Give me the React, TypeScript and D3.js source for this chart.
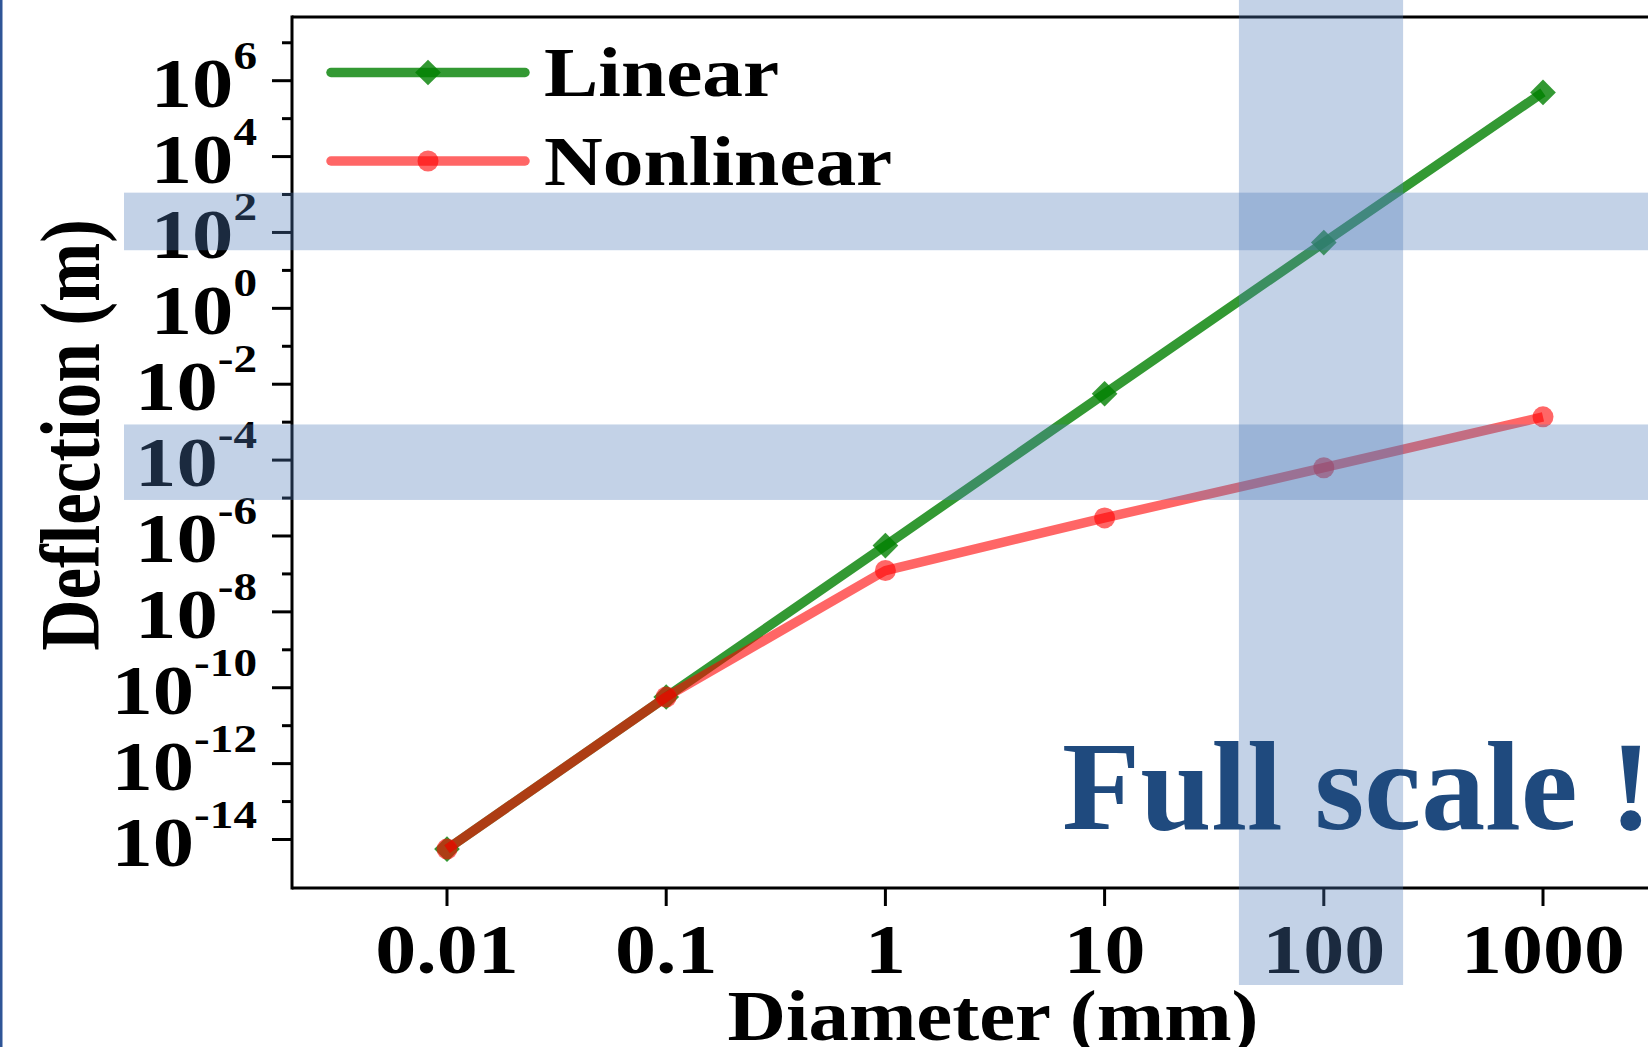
import * as d3 from "d3";

// values (diameter in mm, deflection in m)
const diameters = [0.01, 0.1, 1, 10, 100, 1000];
const linearDeflection = [5.6e-15, 5.7e-11, 5.6e-7, 5.6e-3, 54, 4.9e5];
const nonlinearDeflection = [5.6e-15, 5.7e-11, 1.23e-7, 3.0e-6, 6.3e-5, 1.38e-3];

const xTicks = [0.01, 0.1, 1, 10, 100, 1000];
const xTickLabels = ["0.01", "0.1", "1", "10", "100", "1000"];
const yMajorExp = [6, 4, 2, 0, -2, -4, -6, -8, -10, -12, -14];
const yMinorExp = [7, 5, 3, 1, -1, -3, -5, -7, -9, -11, -13];

// highlighted ranges
const yBands = [
  [34, 1120],
  [8.9e-6, 8.7e-4],
];
const xBand = [41, 230];

const W = 1648;
const H = 1047;
const FONT = "'Liberation Serif', 'Times New Roman', serif";
const frame = { left: 292, top: 17, bottom: 888, right: 1700 };

const GREEN = "rgb(0,128,0)";
const RED = "rgb(255,0,0)";
const BAND = "#4f7cb8";
const LW = 9.5;

export default function App() {
  const x = d3.scaleLog().domain([0.01, 1000]).range([447, 1543]);
  const y = d3.scaleLog().domain([1e-14, 1e6]).range([839.5, 80.7]);

  const line = d3
    .line<number>()
    .x((_, i) => x(diameters[i]))
    .y((d) => y(d));

  const diamond = d3.symbol(d3.symbolSquare, 330)()!;

  return (
    <svg
      width={W}
      height={H}
      style={{ position: "absolute", left: 0, top: 0, background: "#fff" }}
      fontFamily={FONT}
      fontWeight="bold"
    >
      <rect x={0} y={0} width={W} height={H} fill="#fff" />
      <rect x={0} y={0} width={2.5} height={H} fill="#2f5597" />

      {/* frame */}
      <g stroke="#000" strokeWidth={3} fill="none">
        <line x1={frame.left} x2={frame.left} y1={frame.top - 1.5} y2={frame.bottom + 1.5} />
        <line x1={frame.left} x2={frame.right} y1={frame.top} y2={frame.top} />
        <line x1={frame.left} x2={frame.right} y1={frame.bottom} y2={frame.bottom} />
      </g>

      {/* y ticks */}
      <g stroke="#000" strokeWidth={3}>
        {yMajorExp.map((e) => (
          <line key={"M" + e} x1={frame.left - 20} x2={frame.left} y1={y(10 ** e)} y2={y(10 ** e)} />
        ))}
        {yMinorExp.map((e) => (
          <line key={"m" + e} x1={frame.left - 10} x2={frame.left} y1={y(10 ** e)} y2={y(10 ** e)} />
        ))}
      </g>
      {yMajorExp.map((e) => (
        <g key={"yl" + e} transform={`translate(257,${y(10 ** e) + 26}) scale(1.18,1)`}>
          <text textAnchor="end" fontSize={70}>
            10
            <tspan fontSize={40} dy={-38}>
              {e}
            </tspan>
          </text>
        </g>
      ))}

      {/* x ticks */}
      {xTicks.map((t, i) => (
        <g key={"x" + t}>
          <line x1={x(t)} x2={x(t)} y1={frame.bottom} y2={frame.bottom + 18} stroke="#000" strokeWidth={3} />
          <g transform={`translate(${x(t)},973) scale(1.17,1)`}>
            <text textAnchor="middle" fontSize={70}>
              {xTickLabels[i]}
            </text>
          </g>
        </g>
      ))}

      {/* axis titles */}
      <g transform="translate(993,1040) scale(1.14,1)">
        <text textAnchor="middle" fontSize={71}>
          Diameter (mm)
        </text>
      </g>
      <g transform="translate(99,435) rotate(-90) scale(1,1.18)">
        <text textAnchor="middle" fontSize={71}>
          Deflection (m)
        </text>
      </g>

      {/* series */}
      <path d={line(linearDeflection)!} fill="none" stroke={GREEN} strokeOpacity={0.8} strokeWidth={LW} strokeLinejoin="round" />
      {linearDeflection.map((d, i) => (
        <path
          key={"g" + i}
          d={diamond}
          transform={`translate(${x(diameters[i])},${y(d)}) rotate(45)`}
          fill={GREEN}
          fillOpacity={0.8}
        />
      ))}
      <path d={line(nonlinearDeflection)!} fill="none" stroke={RED} strokeOpacity={0.6} strokeWidth={LW} strokeLinejoin="round" />
      {nonlinearDeflection.map((d, i) => (
        <circle key={"r" + i} cx={x(diameters[i])} cy={y(d)} r={10.5} fill={RED} fillOpacity={0.6} />
      ))}

      {/* legend */}
      <g>
        <line x1={331} x2={525} y1={72.5} y2={72.5} stroke={GREEN} strokeOpacity={0.8} strokeWidth={LW} strokeLinecap="round" />
        <path d={diamond} transform="translate(428,72.5) rotate(45)" fill={GREEN} fillOpacity={0.8} />
        <g transform="translate(544,96) scale(1.18,1)">
          <text fontSize={69}>Linear</text>
        </g>
        <line x1={331} x2={525} y1={161} y2={161} stroke={RED} strokeOpacity={0.6} strokeWidth={LW} strokeLinecap="round" />
        <circle cx={428} cy={161} r={10.5} fill={RED} fillOpacity={0.6} />
        <g transform="translate(544,185) scale(1.18,1)">
          <text fontSize={69}>Nonlinear</text>
        </g>
      </g>

      {/* highlight bands */}
      <g fill={BAND} fillOpacity={0.34}>
        {yBands.map(([lo, hi], i) => (
          <rect key={"b" + i} x={124} y={y(hi)} width={W - 124} height={y(lo) - y(hi)} />
        ))}
        <rect x={x(xBand[0])} y={0} width={x(xBand[1]) - x(xBand[0])} height={985} />
      </g>

      <text x={1062} y={829} fontSize={128} fill="#1f4a7e">
        Full scale !
      </text>
    </svg>
  );
}
